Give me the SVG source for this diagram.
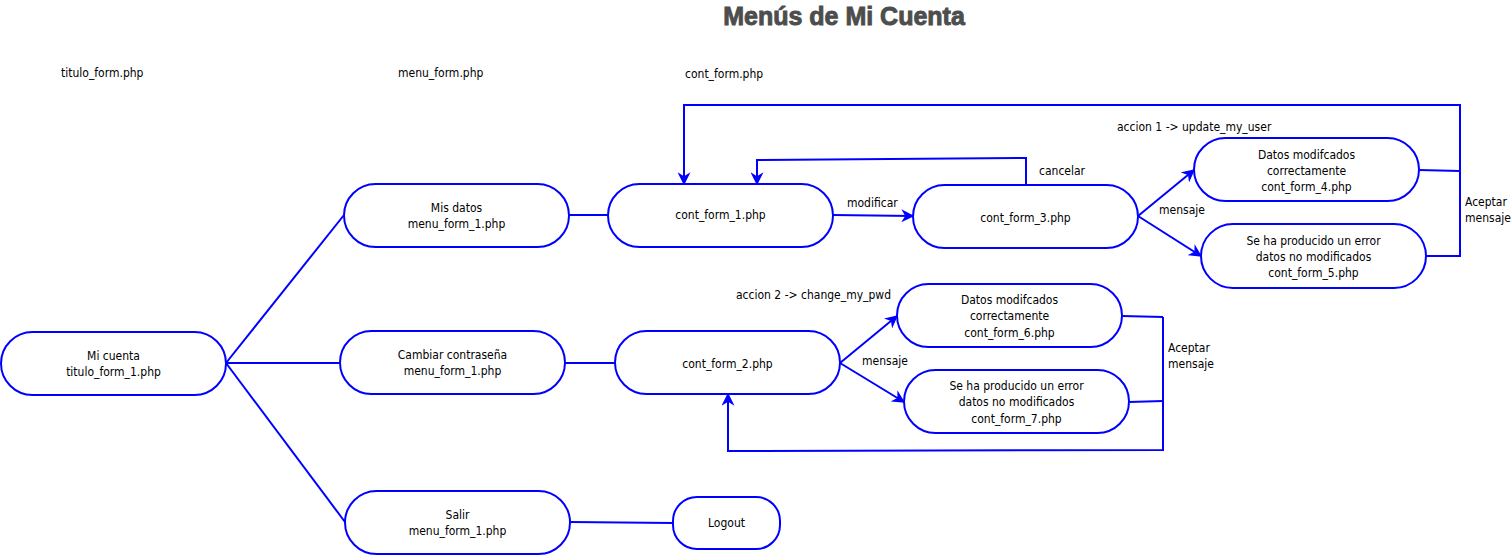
<svg xmlns="http://www.w3.org/2000/svg" width="1512" height="555" viewBox="0 0 1512 555">
<style>
.n{fill:#fff;stroke:#0000ff;stroke-width:2}
.t{font-family:"DejaVu Sans Condensed","DejaVu Sans",sans-serif;font-size:12px;fill:#000;text-anchor:middle}
.l{font-family:"DejaVu Sans Condensed","DejaVu Sans",sans-serif;font-size:12px;fill:#000}
.e{fill:none;stroke:#0000ff;stroke-width:2}
.title{font-family:"Liberation Sans",Arial,sans-serif;font-weight:bold;font-size:25px;fill:#4d4d4d;stroke:#4d4d4d;stroke-width:0.9;text-anchor:middle}
</style>
<defs>
<marker id="a" viewBox="0 0 10 10" refX="9" refY="5" markerWidth="6.5" markerHeight="6.5" markerUnits="strokeWidth" orient="auto">
<path d="M0,0 L10,5 L0,10 L3,5 Z" fill="#0000ff"/>
</marker>
</defs>
<rect width="1512" height="555" fill="#fff"/>
<text class="title" x="844" y="25">Menús de Mi Cuenta</text>
<text class="l" x="61" y="77">titulo_form.php</text>
<text class="l" x="398" y="77">menu_form.php</text>
<text class="l" x="685" y="78">cont_form.php</text>

<g id="connectors">
<path class="e" d="M226,363 L344,215"/>
<path class="e" d="M226,363 L340,363"/>
<path class="e" d="M226,363 L345,522"/>
<path class="e" d="M569,215 L608,215"/>
<path class="e" d="M565,363 L615,363"/>
<path class="e" d="M570,522 L673,523"/>
<path class="e" d="M833,215 L913,216" marker-end="url(#a)"/>
<path class="e" d="M1026,185 L1026,158 L757,160 L757,184" marker-end="url(#a)"/>
<path class="e" d="M1138,216 L1194,170" marker-end="url(#a)"/>
<path class="e" d="M1138,216 L1201,256" marker-end="url(#a)"/>
<path class="e" d="M1419,170 L1460,171"/>
<path class="e" d="M1426,256 L1460,256 L1460,105 L684,105 L684,184" marker-end="url(#a)"/>
<path class="e" d="M840,363 L897,316" marker-end="url(#a)"/>
<path class="e" d="M840,363 L904,402" marker-end="url(#a)"/>
<path class="e" d="M1122,316 L1163,317"/>
<path class="e" d="M1129,402 L1163,401"/>
<path class="e" d="M1163,317 L1163,450 L728,451 L728,394" marker-end="url(#a)"/>
<text class="l" x="847" y="207">modificar</text>
<text class="l" x="1039" y="175">cancelar</text>
<text class="l" x="1159" y="214">mensaje</text>
<text class="l" x="1117" y="131">accion 1 -&gt; update_my_user</text>
<text class="l" x="1465" y="206">Aceptar</text>
<text class="l" x="1465" y="222">mensaje</text>
<text class="l" x="862" y="365">mensaje</text>
<text class="l" x="736" y="299">accion 2 -&gt; change_my_pwd</text>
<text class="l" x="1168" y="352">Aceptar</text>
<text class="l" x="1168" y="368">mensaje</text>
</g>

<g id="mi-cuenta"><rect class="n" x="1" y="332" width="225" height="63" rx="31.5"/><text class="t" x="113.5" y="360">Mi cuenta</text><text class="t" x="113.5" y="376">titulo_form_1.php</text></g>
<g id="mis-datos"><rect class="n" x="344" y="184" width="225" height="63" rx="31.5"/><text class="t" x="456.5" y="212">Mis datos</text><text class="t" x="456.5" y="228">menu_form_1.php</text></g>
<g id="cambiar"><rect class="n" x="340" y="331" width="225" height="63" rx="31.5"/><text class="t" x="452.5" y="359">Cambiar contraseña</text><text class="t" x="452.5" y="375">menu_form_1.php</text></g>
<g id="salir"><rect class="n" x="345" y="491" width="225" height="63" rx="31.5"/><text class="t" x="457.5" y="519">Salir</text><text class="t" x="457.5" y="535">menu_form_1.php</text></g>
<g id="logout"><rect class="n" x="673" y="497" width="107" height="52" rx="24"/><text class="t" x="726.5" y="527">Logout</text></g>
<g id="cont-form-1"><rect class="n" x="608" y="184" width="225" height="63" rx="31.5"/><text class="t" x="720.5" y="219">cont_form_1.php</text></g>
<g id="cont-form-3"><rect class="n" x="913" y="185" width="225" height="63" rx="31.5"/><text class="t" x="1025.5" y="222">cont_form_3.php</text></g>
<g id="cont-form-4"><rect class="n" x="1194" y="138" width="225" height="63" rx="31.5"/><text class="t" x="1306.5" y="159">Datos modifcados</text><text class="t" x="1306.5" y="175">correctamente</text><text class="t" x="1306.5" y="191">cont_form_4.php</text></g>
<g id="cont-form-5"><rect class="n" x="1201" y="224" width="225" height="64" rx="32"/><text class="t" x="1313.5" y="245">Se ha producido un error</text><text class="t" x="1313.5" y="261">datos no modificados</text><text class="t" x="1313.5" y="277">cont_form_5.php</text></g>
<g id="cont-form-2"><rect class="n" x="615" y="331" width="225" height="63" rx="31.5"/><text class="t" x="727.5" y="368">cont_form_2.php</text></g>
<g id="cont-form-6"><rect class="n" x="897" y="284" width="225" height="63" rx="31.5"/><text class="t" x="1009.5" y="304">Datos modifcados</text><text class="t" x="1009.5" y="320">correctamente</text><text class="t" x="1009.5" y="337">cont_form_6.php</text></g>
<g id="cont-form-7"><rect class="n" x="904" y="370" width="225" height="63" rx="31.5"/><text class="t" x="1016.5" y="390">Se ha producido un error</text><text class="t" x="1016.5" y="406">datos no modificados</text><text class="t" x="1016.5" y="423">cont_form_7.php</text></g>
</svg>
